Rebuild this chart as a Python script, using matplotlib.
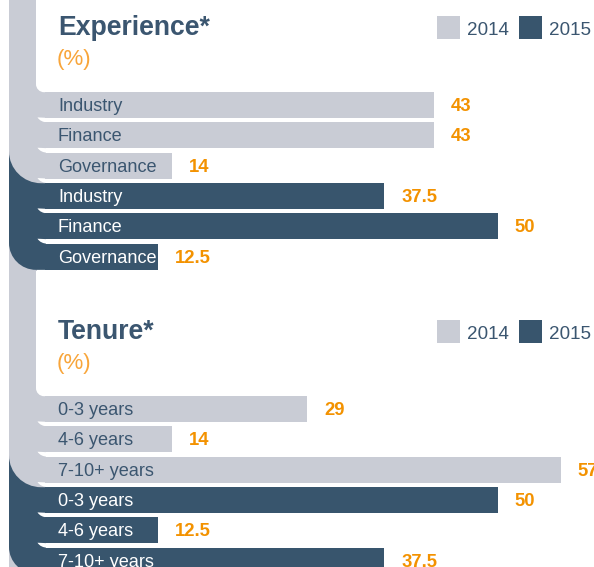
import numpy as np
import matplotlib.pyplot as plt
from matplotlib.path import Path
from matplotlib.patches import PathPatch, Rectangle

plt.rcParams['font.family'] = ['Liberation Sans', 'DejaVu Sans']

# data
exp_cats = ["Industry", "Finance", "Governance"]
exp_2014 = [43, 43, 14]
exp_2015 = [37.5, 50, 12.5]

ten_cats = ["0-3 years", "4-6 years", "7-10+ years"]
ten_2014 = [29, 14, 57]
ten_2015 = [50, 12.5, 37.5]

years = ["2014", "2015"]

GREY = "#c9ccd5"
DARK = "#38556d"
TEXT = "#3b5670"
ORANGE = "#f39200"
LIGHT_ORANGE = "#f8a53a"

W, H = 594, 567
X0 = 45          # pixel where value 0 sits
PX = 9.05        # pixels per percent
PITCH = 30.33    # row pitch in pixels
BAR_H = 26

fig = plt.figure(figsize=(W / 100, H / 100), dpi=100)

# background layer in pixel coordinates (y down)
bg = fig.add_axes([0, 0, 1, 1])
bg.set_xlim(0, W)
bg.set_ylim(H, 0)
bg.axis('off')

K = 0.5523


def left_rounded(x0, x1, y0, y1, rb=0, **kw):
    # rectangle with only its bottom-left corner rounded
    verts = [(x1, y0), (x0, y0), (x0, y1 - rb),
             (x0, y1 - rb + K * rb), (x0 + rb - K * rb, y1), (x0 + rb, y1),
             (x1, y1), (x1, y0)]
    codes = [Path.MOVETO, Path.LINETO, Path.LINETO,
             Path.CURVE4, Path.CURVE4, Path.CURVE4,
             Path.LINETO, Path.CLOSEPOLY]
    return PathPatch(Path(verts, codes), lw=0, **kw)


# vertical strip running down the left side
bg.add_patch(Rectangle((9, -5), 28, H + 10, color=GREY, lw=0))


def frame(off, start):
    first_top = off + 105.2 - BAR_H / 2
    dark_top = off + 105.2 + 3 * PITCH - BAR_H / 2
    last_bot = off + 105.2 + 5 * PITCH + BAR_H / 2
    bg.add_patch(left_rounded(9, X0 + 1, dark_top - 40, last_bot, rb=27, color=DARK))
    bg.add_patch(left_rounded(9, X0 + 1, start, dark_top, rb=32, color=GREY))
    bg.add_patch(left_rounded(36, 700, start, first_top, rb=8, color="white"))
    # white notches where the row gaps meet the strip
    for i in range(5):
        yt = off + 105.2 + i * PITCH + BAR_H / 2
        yb = yt + PITCH - BAR_H
        verts = [(37.5, yt - 0.8), (X0 + 3, yt - 0.3), (X0 + 3, yb),
                 (40.5, yb - 0.3), (37.5, yt - 0.8)]
        codes = [Path.MOVETO, Path.LINETO, Path.LINETO, Path.CURVE3, Path.CURVE3]
        bg.add_patch(PathPatch(Path(verts, codes), color="white", lw=0))


frame(0, -10)
frame(304, 271)


def panel(off, title, cats, v14, v15):
    # headings and legend
    bg.text(58, off + 35, title, fontsize=19.2, fontweight='bold', color=TEXT, va='baseline')
    bg.text(57, off + 59, "(%)", fontsize=16, color=LIGHT_ORANGE, va='center')
    for x, c, lab in [(437, GREY, years[0]), (519, DARK, years[1])]:
        bg.add_patch(Rectangle((x, off + 16), 23, 23, color=c, lw=0))
        bg.text(x + 30, off + 35, lab, fontsize=13.6, color=TEXT, va='baseline')

    top = off + 90
    ax = fig.add_axes([0, 1 - (top + 6 * PITCH) / H, 1, 6 * PITCH / H])
    ax.set_xlim(-X0 / PX, (W - X0) / PX)
    ax.set_ylim(5.5, -0.5)
    ax.axis('off')
    ax.patch.set_visible(False)

    labels = cats + cats
    vals = list(v14) + list(v15)
    colors = [GREY] * len(v14) + [DARK] * len(v15)
    ypos = np.arange(len(vals))
    ax.barh(ypos, vals, height=BAR_H / PITCH, color=colors, lw=0)
    for y, lab, v, c in zip(ypos, labels, vals, colors):
        tc = TEXT if c == GREY else "white"
        ax.annotate(lab, (0, y), xytext=((58 - X0) * 0.72, -1), textcoords='offset points',
                    fontsize=13.1, color=tc, va='center', ha='left')
        ax.annotate(f"{v:g}", (v, y), xytext=(12.2, -1), textcoords='offset points',
                    fontsize=13.3, fontweight='bold', color=ORANGE, va='center', ha='left',
                    annotation_clip=False)


panel(0, "Experience*", exp_cats, exp_2014, exp_2015)
panel(304, "Tenure*", ten_cats, ten_2014, ten_2015)

fig.savefig("out.png", dpi=100)
